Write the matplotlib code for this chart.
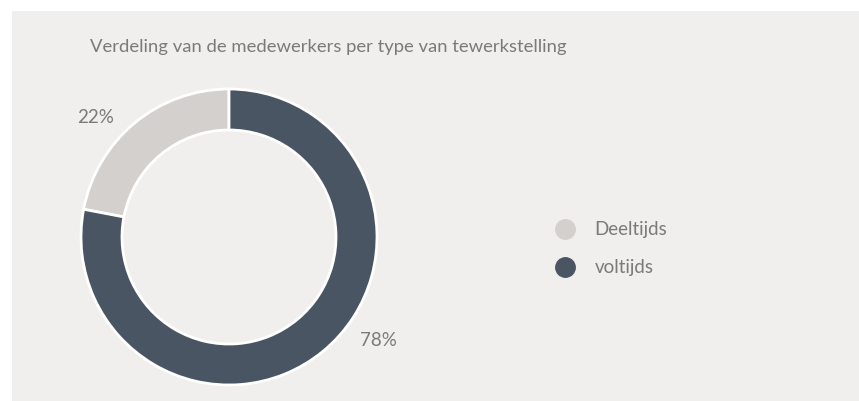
import matplotlib
matplotlib.use("Agg")
import matplotlib.pyplot as plt
from matplotlib.lines import Line2D
from matplotlib.patches import Rectangle

title = "Verdeling van de medewerkers per type van tewerkstelling"
categories = ["Deeltijds", "voltijds"]
values = [22, 78]
colors = ["#d3d0cd", "#4a5563"]

W, H = 859, 401
fig = plt.figure(figsize=(W / 100, H / 100), dpi=100)
fig.patch.set_facecolor("white")
fig.patches.append(Rectangle((12 / W, 0), 1 - 12 / W, (H - 11) / H,
                             transform=fig.transFigure, facecolor="#f0efed",
                             edgecolor="none", zorder=-10))

FONT = ["Lato", "DejaVu Sans"]
TXT = "#7a7a7a"
WEIGHT = "normal"

cx, cy, R = 229, H - 237, 148
half = 200
ax = fig.add_axes([(cx - half) / W, (cy - half) / H, 2 * half / W, 2 * half / H])
ax.set_zorder(5)
ax.patch.set_visible(False)

wedges, _ = ax.pie(values, colors=colors, startangle=90, counterclock=True,
                   radius=1.0,
                   wedgeprops=dict(width=0.277, edgecolor="white", linewidth=2))
ax.set_xlim(-half / R, half / R)
ax.set_ylim(-half / R, half / R)
ax.set_aspect("equal")
ax.axis("off")

total = sum(values)
label_pos = [(-133 / R, 119 / R), (149 / R, -103 / R)]
for v, (lx, ly) in zip(values, label_pos):
    ax.text(lx, ly, f"{round(100 * v / total)}%", ha="center", va="center",
            fontsize=13.5, color=TXT, family=FONT, fontweight=WEIGHT)

fig.text(90 / W, 1 - 47 / H, title, ha="left", va="center", fontsize=13.3,
         color=TXT, family=FONT, fontweight=WEIGHT)

handles = [Line2D([], [], marker="o", linestyle="none", markersize=14,
                  markerfacecolor=c, markeredgecolor=c) for c in colors]
leg = fig.legend(handles, categories, loc="center left",
                 bbox_to_anchor=(556 / W, 1 - 249 / H), frameon=False,
                 handlelength=1.0, handletextpad=1.05, labelspacing=1.12,
                 borderaxespad=0, borderpad=0,
                 prop=dict(family=FONT, size=13.5, weight=WEIGHT))
for t in leg.get_texts():
    t.set_color(TXT)

fig.savefig("out.png", dpi=100, facecolor=fig.get_facecolor())
